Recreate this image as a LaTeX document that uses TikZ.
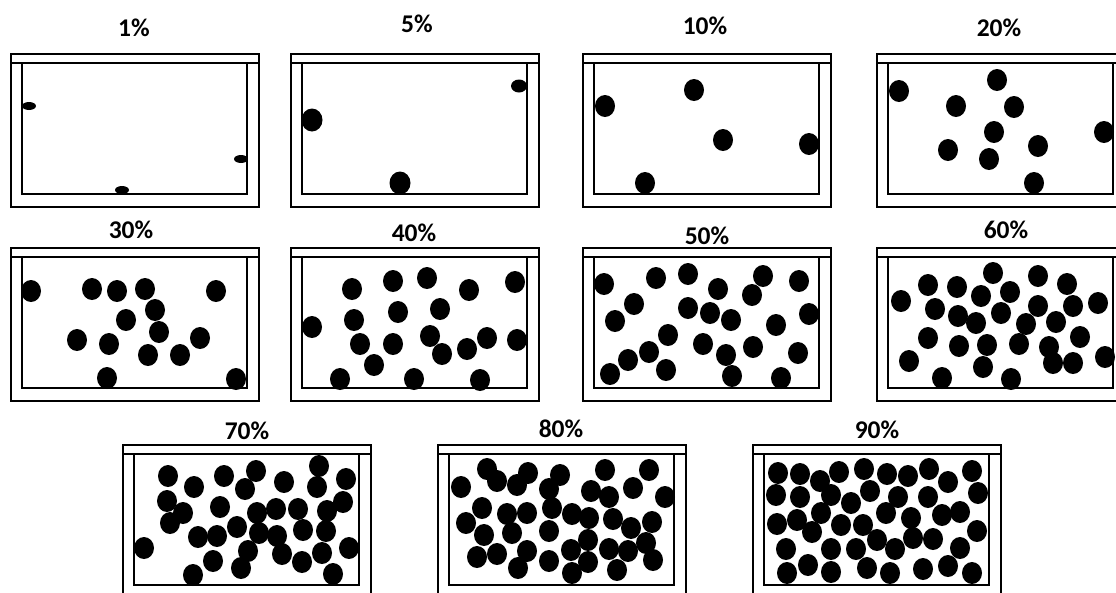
\documentclass[tikz,border=0pt]{standalone}
\usepackage{fontspec}
\setmainfont{Carlito}
\usepackage{tikz}
\usetikzlibrary{positioning}
\tikzset{
  pct/.style={font=\bfseries\fontsize{25.5}{30}\selectfont, anchor=base, inner sep=0pt},
  jarwall/.style={draw=black, line width=2.2pt},
  jarlid/.style={draw=black, line width=1.8pt},
  jarinner/.style={draw=black, line width=1.2pt},
  bead/.style={fill=black}
}
\begin{document}
\begin{tikzpicture}[x=1pt, y=-1pt]
      \useasboundingbox (0,0) rectangle (1116,592);
      % Jars
      \foreach \px/\py in {11/54, 291/54, 583/54, 877/54, 11/248, 291/248, 583/248, 877/248, 123/445, 438/445, 753/445} {
        \draw[jarwall] (\px,\py) rectangle (\px+248,\py+153);
        \draw[jarinner] (\px+11,\py+9) rectangle (\px+236,\py+140);
        \draw[jarlid] (\px,\py+9) -- (\px+248,\py+9);
      }
      % Labels
      \node[pct] (lab1) at (134,36) {1\%};
      \node[pct] (lab5) at (417,32) {5\%};
      \node[pct] (lab10) at (705,34) {10\%};
      \node[pct] (lab20) at (999,36) {20\%};
      \node[pct] (lab30) at (131,238) {30\%};
      \node[pct] (lab40) at (414,241) {40\%};
      \node[pct] (lab50) at (707,244) {50\%};
      \node[pct] (lab60) at (1006,238) {60\%};
      \node[pct] (lab70) at (247,439) {70\%};
      \node[pct] (lab80) at (561,437) {80\%};
      \node[pct] (lab90) at (877,438) {90\%};
      % 1% beads
      \foreach \x/\y in {29/106, 122/190, 241/159}
        \fill[bead] (\x,\y) ellipse [x radius=7, y radius=4];
      % 5% beads
      \fill[bead] (312,120) ellipse [x radius=10.5, y radius=11.5];
      \fill[bead] (400,183) ellipse [x radius=10.5, y radius=11.5];
      \fill[bead] (519,86) ellipse [x radius=8, y radius=6.5];
      % 10% beads
      \foreach \x/\y in {605/106, 694/90, 723/140, 809/144, 645/183}
        \fill[bead] (\x,\y) ellipse [x radius=10, y radius=11];
      % 20% beads
      \foreach \x/\y in {899/91, 997/80, 956/106, 1014/107, 994/132, 1104/132, 948/150, 1038/146, 989/159, 1034/183}
        \fill[bead] (\x,\y) ellipse [x radius=10, y radius=11];
      % 30% beads
      \foreach \x/\y in {31/291, 92/289, 117/291, 145/289, 216/291, 155/310, 126/320, 159/332, 77/340, 109/344, 200/338, 148/355, 180/355, 107/378, 236/379}
        \fill[bead] (\x,\y) ellipse [x radius=10, y radius=11];
      % 40% beads
      \foreach \x/\y in {352/289, 393/281, 427/278, 469/290, 515/282, 398/312, 440/309, 312/327, 354/320, 360/344, 393/344, 430/336, 442/354, 467/349, 487/338, 517/340, 374/365, 340/379, 414/379, 480/380}
        \fill[bead] (\x,\y) ellipse [x radius=10, y radius=11];
      % 50% beads
      \foreach \x/\y in {604/284, 656/278, 688/274, 718/289, 763/276, 752/295, 799/281, 634/304, 615/321, 688/308, 710/313, 731/320, 809/314, 776/325, 668/335, 703/344, 753/347, 798/353, 649/352, 726/355, 628/360, 666/370, 610/374, 732/376, 781/378}
        \fill[bead] (\x,\y) ellipse [x radius=10, y radius=11];
      % 60% beads
      \foreach \x/\y in {901/301, 928/285, 957/287, 993/273, 981/296, 1010/292, 1038/276, 1067/284, 1098/303, 935/309, 958/316, 976/323, 1001/313, 1038/306, 1073/306, 1026/324, 1056/322, 928/338, 959/346, 987/345, 1019/344, 1049/347, 1080/337, 909/361, 1053/363, 1073/363, 1105/357, 983/367, 942/378, 1011/379}
        \fill[bead] (\x,\y) ellipse [x radius=10, y radius=11];
      % 70% beads
      \foreach \x/\y in {168/476, 194/487, 224/476, 256/471, 245/489, 284/482, 319/466, 317/487, 346/479, 167/501, 183/513, 170/523, 220/507, 257/513, 276/509, 298/509, 327/511, 343/502, 237/527, 259/533, 198/537, 217/536, 277/536, 303/530, 326/531, 144/548, 248/551, 282/554, 322/553, 349/548, 213/561, 241/568, 302/562, 193/575, 333/574}
        \fill[bead] (\x,\y) ellipse [x radius=10, y radius=11];
      % 80% beads
      \foreach \x/\y in {461/487, 487/469, 497/481, 517/485, 528/473, 560/475, 549/489, 605/470, 591/491, 609/497, 633/488, 649/470, 665/497, 482/508, 466/523, 507/514, 527/513, 552/508, 572/514, 589/518, 613/519, 631/528, 652/522, 484/535, 512/533, 549/531, 588/540, 571/550, 609/549, 628/551, 646/543, 477/557, 497/554, 527/551, 549/561, 588/562, 518/568, 572/573, 617/570, 653/560}
        \fill[bead] (\x,\y) ellipse [x radius=10, y radius=11];
      % 90% beads
      \foreach \x/\y in {778/473, 800/474, 820/481, 839/472, 864/469, 887/474, 908/476, 929/469, 948/482, 972/471, 776/495, 800/497, 831/495, 851/503, 870/491, 898/497, 928/497, 978/493, 821/513, 886/513, 942/515, 960/512, 777/524, 797/520, 812/532, 841/525, 863/525, 911/518, 877/540, 913/538, 933/539, 977/531, 786/549, 831/549, 856/549, 895/549, 960/548, 787/573, 808/565, 831/572, 867/568, 890/573, 923/569, 948/566, 972/573}
        \fill[bead] (\x,\y) ellipse [x radius=10, y radius=11];
    \end{tikzpicture}
\end{document}
